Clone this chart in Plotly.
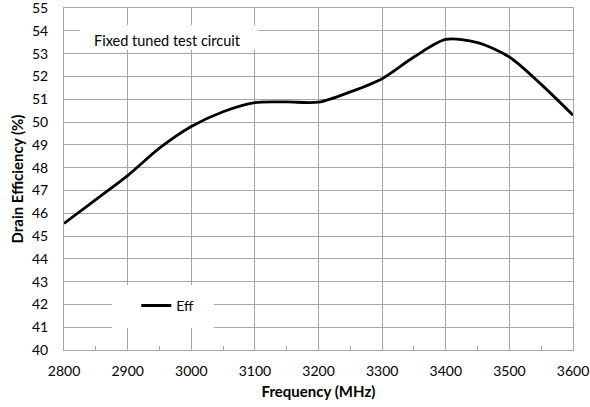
import plotly.graph_objects as go

freq = [2800, 2850, 2900, 2950, 3000, 3050, 3100, 3150, 3200, 3250, 3300, 3350, 3400, 3450, 3500, 3550, 3600]
eff = [45.55, 46.6, 47.65, 48.85, 49.8, 50.45, 50.85, 50.88, 50.87, 51.32, 51.9, 52.85, 53.62, 53.48, 52.85, 51.65, 50.3]

x_ticks = [2800, 2900, 3000, 3100, 3200, 3300, 3400, 3500, 3600]
y_ticks = list(range(40, 56))

GRID = "#a6a6a6"
FONT = "Lato"

fig = go.Figure()
fig.add_trace(go.Scatter(
    x=freq, y=eff, mode="lines", name="Eff",
    line=dict(color="black", width=2.8, shape="spline", smoothing=0.8),
))

fig.update_layout(
    width=590, height=407,
    margin=dict(l=64, r=17, t=8, b=57, autoexpand=False),
    paper_bgcolor="white", plot_bgcolor="white",
    font=dict(family=FONT, size=14, color="black"),
    showlegend=True,
    legend=dict(x=0.142, y=0.129, xanchor="left", yanchor="middle",
                bgcolor="rgba(0,0,0,0)", font=dict(family=FONT, size=14),
                itemwidth=30, borderwidth=0),
    shapes=[
        dict(type="rect", xref="paper", yref="paper",
             x0=(80 - 64) / 509, x1=(258 - 64) / 509,
             y0=(350 - 50) / 342, y1=(350 - 25) / 342,
             fillcolor="white", line=dict(width=0), layer="above"),
        dict(type="rect", xref="paper", yref="paper",
             x0=(112 - 64) / 509, x1=(214 - 64) / 509,
             y0=(350 - 328) / 342, y1=(350 - 285) / 342,
             fillcolor="white", line=dict(width=0), layer="above"),
    ],
    annotations=[
        dict(text="Fixed tuned test circuit", xref="paper", yref="paper",
             x=(167 - 64) / 509, y=(350 - 41) / 342, showarrow=False,
             xanchor="center", yanchor="middle",
             font=dict(family=FONT, size=14.5, color="black")),
    ],
)

fig.update_xaxes(
    range=[2800, 3600], tickvals=x_ticks, ticktext=[str(v) for v in x_ticks],
    showgrid=True, gridcolor=GRID, gridwidth=1,
    showline=True, linecolor=GRID, linewidth=1, mirror=True,
    ticks="", tickfont=dict(size=14), ticklabelstandoff=8,
    ticklabeloverflow="allow", automargin=False,
    minor=dict(tickmode="array", tickvals=[2850, 2950, 3050, 3150, 3250, 3350, 3450, 3550],
               ticks="inside", ticklen=4, tickcolor=GRID, showgrid=False),
    title=dict(text="<b>Frequency (MHz)</b>", font=dict(size=15), standoff=8),
    zeroline=False,
)
fig.update_yaxes(
    range=[40, 55], tickvals=y_ticks, ticktext=[str(v) for v in y_ticks],
    showgrid=True, gridcolor=GRID, gridwidth=1,
    showline=True, linecolor=GRID, linewidth=1, mirror=True,
    ticks="", tickfont=dict(size=14), ticklabelstandoff=12,
    ticklabeloverflow="allow", automargin=False,
    title=dict(text="<b>Drain Efficiency (%)</b>", font=dict(size=15), standoff=4),
    zeroline=False,
)

fig.write_html("out.html", config={"displayModeBar": False},
               post_script="document.body.style.margin='0';")
